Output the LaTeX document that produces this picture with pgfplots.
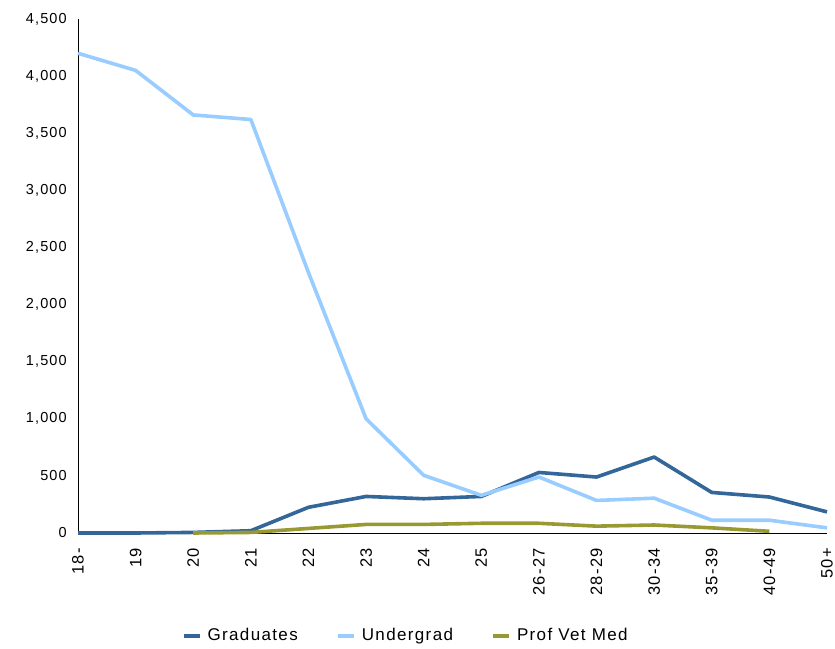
\documentclass[border=0pt]{standalone}
\usepackage{pgfplots}
\pgfplotsset{compat=1.18}
\usepackage{fontspec}
\setmainfont[LetterSpace=8]{Liberation Sans}
\definecolor{grad}{HTML}{336699}
\definecolor{under}{HTML}{99CCFF}
\definecolor{vet}{HTML}{999933}
\begin{document}
\fontsize{15.5bp}{18bp}\selectfont
\begin{tikzpicture}
\begin{axis}[
  scale only axis,
  width=749bp, height=514bp,
  xmin=0, xmax=13, ymin=0, ymax=4500,
  axis lines=left,
  axis line style={black, line width=0.9pt, -},
  xtick={0,...,13},
  xticklabels={18-,19,20,21,22,23,24,25,26-27,28-29,30-34,35-39,40-49,50+},
  xticklabel style={rotate=90, anchor=east, inner sep=1bp, font=\fontsize{16.5bp}{19bp}\selectfont},
  xticklabel shift=14bp,
  ytick={0,500,...,4500},
  yticklabel style={inner sep=1bp, font=\fontsize{14.5bp}{17bp}\selectfont},
  yticklabel shift=10bp,
  major tick length=0pt,
  /pgf/number format/assume math mode=true,
  /pgf/number format/1000 sep={,},
  /pgf/number format/fixed,
  clip=false,
  legend style={at={(0.44,-0.2)}, anchor=center, draw=none, legend columns=3,
    /tikz/every even column/.append style={column sep=32bp},
    nodes={inner xsep=6bp},
    font=\fontsize{17bp}{19bp}\selectfont},
  legend image code/.code={\draw[#1, line width=4bp] (0bp,0bp) -- (16bp,0bp);},
]
\addplot[grad, line width=3.6bp, line join=round] coordinates {(0,0) (1,0) (2,5) (3,20) (4,225) (5,320) (6,300) (7,320) (8,530) (9,490) (10,665) (11,355) (12,315) (13,185)};
\addplot[under, line width=3.6bp, line join=round] coordinates {(0,4200) (1,4050) (2,3660) (3,3620) (4,2280) (5,1000) (6,505) (7,330) (8,490) (9,285) (10,305) (11,112) (12,112) (13,45)};
\addplot[vet, line width=3.6bp, line join=round] coordinates {(2,0) (3,5) (4,40) (5,75) (6,75) (7,85) (8,85) (9,60) (10,70) (11,45) (12,15)};
\legend{Graduates,Undergrad,Prof Vet Med}
\coordinate (O) at (rel axis cs:0,0);
\end{axis}
\pgfresetboundingbox
\path (O) ++(-78bp,-116bp) rectangle ++(835bp,649bp);
\end{tikzpicture}
\end{document}
